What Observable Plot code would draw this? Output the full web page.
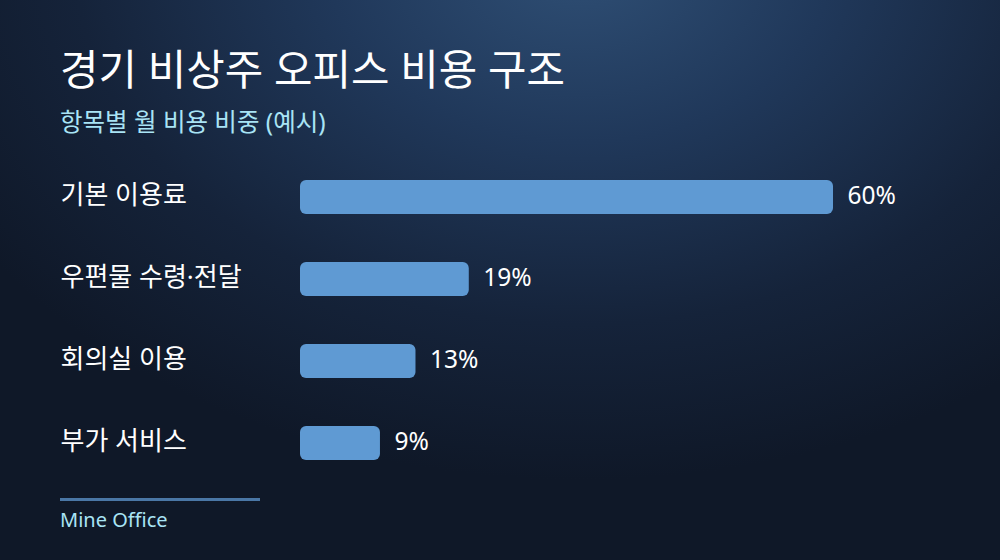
<!DOCTYPE html>
<html>
<head>
<meta charset="utf-8">
<script src="https://cdn.jsdelivr.net/npm/d3@7"></script>
<script src="https://cdn.jsdelivr.net/npm/@observablehq/plot@0.6"></script>
<style>
  html, body { margin: 0; padding: 0; }
  body { width: 1000px; height: 560px; overflow: hidden; font-family: "Noto Sans", "Noto Sans CJK KR", sans-serif; }
  #page {
    position: relative; width: 1000px; height: 560px; overflow: hidden;
    background: radial-gradient(ellipse 720px 520px at 580px -40px, #2f4f75 0%, #20385a 35%, #15233a 70%, #0f1828 100%);
  }
  #title { position: absolute; left: 60px; top: 44px; font-size: 41.8px; font-weight: 400; color: #ffffff; line-height: 1.2; white-space: nowrap; }
  #subtitle { position: absolute; left: 60px; top: 107px; font-size: 24.5px; font-weight: 400; color: #a9e4f5; line-height: 1.2; white-space: nowrap; }
  #chart { position: absolute; left: 0; top: 150px; }
  #rule { position: absolute; left: 60px; top: 498px; width: 200px; height: 3px; background: #4a77a6; }
  #caption { position: absolute; left: 60px; top: 508px; font-size: 20px; color: #a9e4f5; line-height: 1.2; white-space: nowrap; }
</style>
</head>
<body>
<div id="page">
  <div id="title">경기 비상주 오피스 비용 구조</div>
  <div id="subtitle">항목별 월 비용 비중 (예시)</div>
  <div id="chart"></div>
  <div id="rule"></div>
  <div id="caption">Mine Office</div>
</div>
<script>
const categories = ["기본 이용료", "우편물 수령·전달", "회의실 이용", "부가 서비스"];
const shares = [60, 19, 13, 9];

const data = categories.map((c, i) => ({category: c, share: shares[i]}));

const chart = Plot.plot({
  width: 1000,
  height: 340,
  marginLeft: 300,
  marginRight: 167,
  marginTop: 21.8,
  marginBottom: 21.8,
  style: {background: "transparent", fontFamily: "'Noto Sans', 'Noto Sans CJK KR', sans-serif", overflow: "visible"},
  x: {domain: [0, 60], axis: null},
  y: {domain: categories, axis: null, paddingInner: 0.5854, paddingOuter: 0.1},
  marks: [
    Plot.barX(data, {y: "category", x: "share", fill: "#5f9ad3", rx: 6}),
    Plot.text(data, {y: "category", text: "category", frameAnchor: "left", dx: -240, dy: -2, textAnchor: "start", fill: "#ffffff", fontSize: 26}),
    Plot.text(data, {y: "category", x: "share", text: d => d.share + "%", dx: 14, dy: -1, textAnchor: "start", fill: "#ffffff", fontSize: 24.5})
  ]
});
document.getElementById("chart").appendChild(chart);
</script>
</body>
</html>
